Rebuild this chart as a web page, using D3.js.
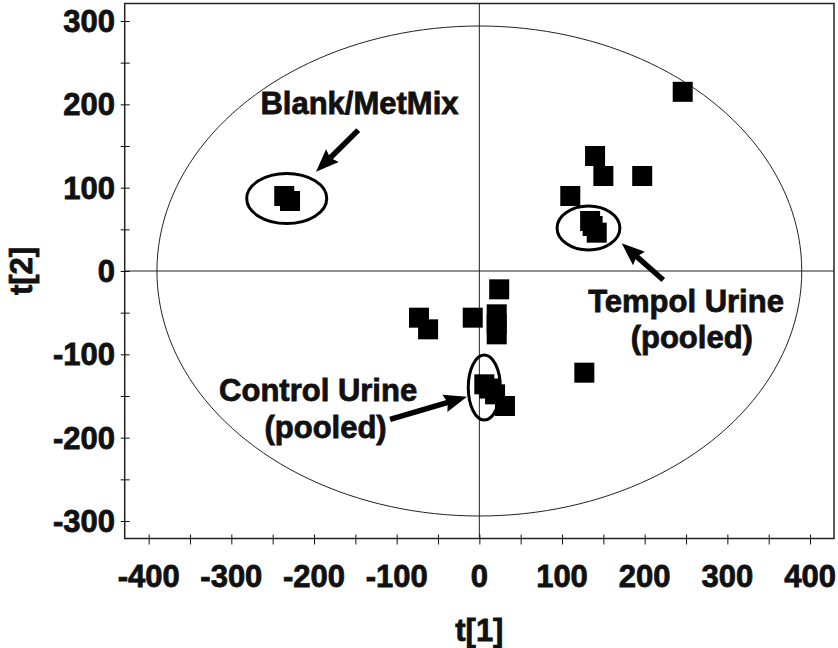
<!DOCTYPE html>
<html><head><meta charset="utf-8">
<script src="https://cdn.jsdelivr.net/npm/d3@7"></script>
<style>
html,body{margin:0;padding:0;background:#fff;}
svg{display:block;}
text{font-family:"Liberation Sans",Arial,sans-serif;font-weight:bold;fill:#111;stroke:#111;stroke-width:0.8px;}
</style></head>
<body>
<svg id="c" width="838" height="648"></svg>
<script>
// ---- data (t[1], t[2] scores) ----
const t1 = [-236, -229, 140, 150, 197, 110, 134, 137, 142, 246, 127, 24, 21, 21, 21, -8, -73, -62, 6, 12, 19, 31];
const t2 = [90, 84, 138, 114, 114, 90, 60, 54, 46, 215, -122, -22, -52, -64, -76, -56, -56, -70, -136, -141, -148, -162];
const xTickValues = [-400, -300, -200, -100, 0, 100, 200, 300, 400];
const yTickValues = [-300, -200, -100, 0, 100, 200, 300];
const minorXTicks = [-400,-350,-300,-250,-200,-150,-100,-50,0,50,100,150,200,250,300,350,400];
const minorYTicks = [-300,-250,-200,-150,-100,-50,0,50,100,150,200,250,300];
// Hotelling T2 ellipse semi-axes
const ellipseRx = [390];
const ellipseRy = [294];
// annotations (data coordinates)
const annotationTexts = ["Blank/MetMix", "Tempol Urine", "(pooled)", "Control Urine", "(pooled)"];
const annotationTextX = [-145, 250, 257, -195, -186];
const annotationTextY = [189, -49, -92, -156, -200];
const groupEllipseCx = [-233, 132, 6];
const groupEllipseCy = [87, 51.6, -139.8];
const groupEllipseRx = [48.4, 38, 19.4];
const groupEllipseRy = [30, 26.4, 39];
const arrowFromX = [-146.5, 222.5, -108];
const arrowFromY = [169, -10.8, -178];
const arrowToX = [-197.6, 172.2, -15];
const arrowToY = [119, 33.2, -151];

const svg = d3.select("#c");
const L = 124.7, R = 834, T = 3.5, B = 538.5;
const x = d3.scaleLinear().domain([-429, 429]).range([L, R]);
const y = d3.scaleLinear().domain([-321, 321]).range([B, T]);

// frame
svg.append("rect").attr("x", L).attr("y", T).attr("width", R - L).attr("height", B - T)
  .attr("fill", "none").attr("stroke", "#222").attr("stroke-width", 1.5);

// zero lines
svg.append("line").attr("x1", L).attr("x2", R).attr("y1", y(0)).attr("y2", y(0))
  .attr("stroke", "#222").attr("stroke-width", 1);
svg.append("line").attr("x1", x(0)).attr("x2", x(0)).attr("y1", T).attr("y2", B)
  .attr("stroke", "#222").attr("stroke-width", 1);

// T2 ellipse
const ePts = d3.range(0, 361, 2).map(a => [x(ellipseRx[0] * Math.cos(a * Math.PI / 180)), y(ellipseRy[0] * Math.sin(a * Math.PI / 180))]);
svg.append("path").attr("d", d3.line()(ePts)).attr("fill", "none").attr("stroke", "#222").attr("stroke-width", 1);

// axes
const xAxis = svg.append("g").attr("transform", `translate(0,${B})`)
  .call(d3.axisBottom(x).tickValues(minorXTicks).tickSize(6).tickFormat(""));
xAxis.select(".domain").remove();
xAxis.selectAll(".tick line").attr("y1", -4).attr("stroke", "#111");
const yAxis = svg.append("g").attr("transform", `translate(${L},0)`)
  .call(d3.axisLeft(y).tickValues(minorYTicks).tickSize(4).tickFormat(""));
yAxis.select(".domain").remove();
yAxis.selectAll(".tick line").attr("x1", -4).attr("x2", 5).attr("stroke", "#111");

// tick labels
svg.append("g").selectAll("text").data(xTickValues).join("text")
  .attr("x", d => x(d)).attr("y", 587).attr("text-anchor", "middle")
  .attr("font-size", 31).text(d => d);
svg.append("g").selectAll("text").data(yTickValues).join("text")
  .attr("x", 115).attr("y", d => y(d) + 11).attr("text-anchor", "end")
  .attr("font-size", 31).text(d => d);

// axis titles
svg.append("text").attr("x", x(0)).attr("y", 641).attr("text-anchor", "middle").attr("font-size", 31).text("t[1]");
svg.append("text").attr("transform", `translate(32,${y(0)}) rotate(-90)`).attr("text-anchor", "middle")
  .attr("font-size", 31).text("t[2]");

// points
svg.append("g").selectAll("rect").data(t1.map((v, i) => [v, t2[i]])).join("rect")
  .attr("x", d => x(d[0]) - 10).attr("y", d => y(d[1]) - 10)
  .attr("width", 20).attr("height", 20).attr("fill", "#000");

// group ellipses
svg.append("g").selectAll("ellipse").data(groupEllipseCx).join("ellipse")
  .attr("cx", (d, i) => x(d)).attr("cy", (d, i) => y(groupEllipseCy[i]))
  .attr("rx", (d, i) => x(groupEllipseRx[i]) - x(0)).attr("ry", (d, i) => y(0) - y(groupEllipseRy[i]))
  .attr("fill", "none").attr("stroke", "#000").attr("stroke-width", 3);

// arrows
arrowFromX.forEach((fx, i) => {
  const x1 = x(fx), y1 = y(arrowFromY[i]), x2 = x(arrowToX[i]), y2 = y(arrowToY[i]);
  const ang = Math.atan2(y2 - y1, x2 - x1);
  const hl = 20, hw = 9;
  const bx = x2 - hl * Math.cos(ang), by = y2 - hl * Math.sin(ang);
  svg.append("line").attr("x1", x1).attr("y1", y1).attr("x2", bx + 2 * Math.cos(ang)).attr("y2", by + 2 * Math.sin(ang))
    .attr("stroke", "#000").attr("stroke-width", 5.5);
  const p = [[x2, y2],
    [bx - hw * Math.sin(ang) - 3 * Math.cos(ang), by + hw * Math.cos(ang) - 3 * Math.sin(ang)],
    [bx, by],
    [bx + hw * Math.sin(ang) - 3 * Math.cos(ang), by - hw * Math.cos(ang) - 3 * Math.sin(ang)]];
  svg.append("path").attr("d", d3.line()(p) + "Z").attr("fill", "#000");
});

// annotation texts
svg.append("g").selectAll("text").data(annotationTexts).join("text")
  .attr("x", (d, i) => x(annotationTextX[i])).attr("y", (d, i) => y(annotationTextY[i]))
  .attr("text-anchor", "middle").attr("font-size", 31).text(d => d);
</script>
</body></html>
